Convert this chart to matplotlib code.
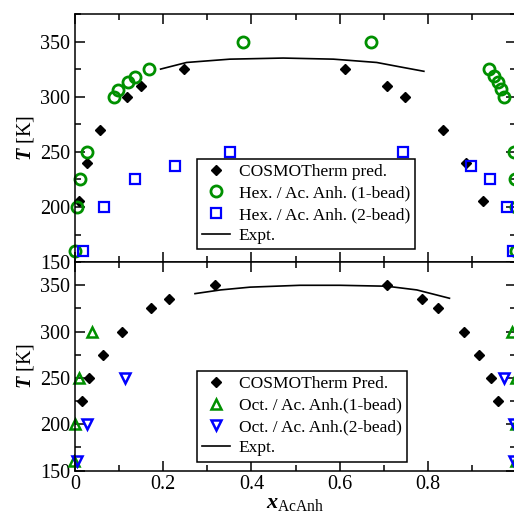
import matplotlib
matplotlib.use("Agg")
import matplotlib.pyplot as plt
from matplotlib.ticker import MultipleLocator

plt.rcParams['font.family'] = ['Liberation Serif', 'DejaVu Serif']
plt.rcParams['mathtext.fontset'] = 'custom'
plt.rcParams['mathtext.rm'] = 'Liberation Serif'
plt.rcParams['mathtext.it'] = 'Liberation Serif:italic'
plt.rcParams['mathtext.bf'] = 'Liberation Serif:bold'
plt.rcParams['mathtext.bfit'] = 'Liberation Serif:italic:bold'

GREEN = '#009000'
BLUE = '#0000ff'

# ---- top panel: hexane / acetic anhydride ----
cosmo_top_x = [0.008, 0.028, 0.057, 0.118, 0.150, 0.246, 0.613, 0.708, 0.749, 0.834, 0.887, 0.924]
cosmo_top_T = [205, 240, 270, 300, 310, 325, 325, 310, 300, 270, 240, 205]

hex1_x = [0.0, 0.004, 0.011, 0.026, 0.089, 0.097, 0.120, 0.137, 0.167, 0.380,
          0.671, 0.939, 0.951, 0.958, 0.965, 0.973, 0.995, 0.997, 1.0, 1.0]
hex1_T = [160, 200, 225, 250, 300, 306, 313, 318, 325, 350,
          350, 325, 319, 313, 307, 300, 250, 225, 200, 160]

hex2_x = [0.017, 0.066, 0.137, 0.227, 0.351, 0.744, 0.897, 0.941, 0.979, 0.992]
hex2_T = [160, 200, 225, 237.5, 250, 250, 237.5, 225, 200, 160]

expt_top_x = [0.194, 0.253, 0.351, 0.472, 0.586, 0.684, 0.737, 0.791]
expt_top_T = [325, 331, 334, 335, 334, 331, 327, 323]

# ---- bottom panel: octane / acetic anhydride ----
cosmo_bot_x = [0.015, 0.032, 0.063, 0.106, 0.172, 0.212, 0.317,
               0.707, 0.786, 0.824, 0.882, 0.915, 0.943, 0.960]
cosmo_bot_T = [225, 250, 275, 300, 325, 335, 350,
               350, 335, 325, 300, 275, 250, 225]

oct1_x = [-0.002, 0.001, 0.010, 0.039, 0.990, 0.999, 1.0, 1.0]
oct1_T = [160, 200, 250, 300, 300, 250, 200, 160]

oct2_x = [0.004, 0.026, 0.113, 0.973, 0.995, 0.996]
oct2_T = [160, 200, 250, 250, 200, 160]

expt_bot_x = [0.272, 0.330, 0.397, 0.510, 0.600, 0.707, 0.775, 0.849]
expt_bot_T = [341, 345, 348, 350, 350, 349, 345, 336]

x_ticks = [0, 0.2, 0.4, 0.6, 0.8, 1.0]
x_ticklabels = ['0', '0.2', '0.4', '0.6', '0.8', '']

fig = plt.figure(figsize=(5.14, 5.16), dpi=100)
ax1 = fig.add_axes([0.146, 0.492, 0.858, 0.481])
ax2 = fig.add_axes([0.146, 0.088, 0.858, 0.404])

ax1.plot(cosmo_top_x, cosmo_top_T, 'D', color='black', ms=5.5, ls='none',
         label='COSMOTherm pred.', clip_on=False)
ax1.plot(hex1_x, hex1_T, 'o', mfc='none', mec=GREEN, mew=2, ms=8, ls='none',
         label='Hex. / Ac. Anh. (1-bead)', clip_on=False)
ax1.plot(hex2_x, hex2_T, 's', mfc='none', mec=BLUE, mew=1.6, ms=7.5, ls='none',
         label='Hex. / Ac. Anh. (2-bead)', clip_on=False)
ax1.plot(expt_top_x, expt_top_T, '-', color='black', lw=1.2, label='Expt.')

ax2.plot(cosmo_bot_x, cosmo_bot_T, 'D', color='black', ms=5.5, ls='none',
         label='COSMOTherm Pred.', clip_on=False)
ax2.plot(oct1_x, oct1_T, '^', mfc='none', mec=GREEN, mew=1.8, ms=7, ls='none',
         label='Oct. / Ac. Anh.(1-bead)', clip_on=False)
ax2.plot(oct2_x, oct2_T, 'v', mfc='none', mec=BLUE, mew=1.8, ms=7, ls='none',
         label='Oct. / Ac. Anh.(2-bead)', clip_on=False)
ax2.plot(expt_bot_x, expt_bot_T, '-', color='black', lw=1.2, label='Expt.')

for ax in (ax1, ax2):
    ax.set_xlim(0, 1)
    ax.set_ylim(150, 375)
    ax.set_xticks(x_ticks)
    ax.xaxis.set_minor_locator(MultipleLocator(0.1))
    ax.set_yticks([150, 200, 250, 300, 350])
    ax.yaxis.set_minor_locator(MultipleLocator(25))
    ax.tick_params(which='both', direction='in', top=True, right=True,
                   labelsize=14.5, width=1.1)
    ax.tick_params(which='major', length=7.5)
    ax.tick_params(which='minor', length=4)
    for s in ax.spines.values():
        s.set_linewidth(1.1)
    ax.set_ylabel(r'$\mathbfit{T}$ [K]', fontsize=14.5)
    ax.yaxis.set_label_coords(-0.088, 0.5)
    leg = ax.legend(loc='lower left', fontsize=12.5, frameon=True, fancybox=False,
                    edgecolor='black', handlelength=1.6, handletextpad=0.5,
                    labelspacing=0.3, borderpad=0.3, borderaxespad=0)
    leg.get_frame().set_linewidth(1.1)
    leg.get_frame().set_alpha(1)

ax1.get_legend().set_bbox_to_anchor((0.277, 0.051))
ax2.get_legend().set_bbox_to_anchor((0.277, 0.043))
ax1.tick_params(labelbottom=False)
ax2.set_xticklabels(x_ticklabels)
ax2.set_xlabel(r'$\mathbfit{x}_{\mathrm{AcAnh}}$', fontsize=16, labelpad=0)

fig.savefig('out.png', dpi=100)
